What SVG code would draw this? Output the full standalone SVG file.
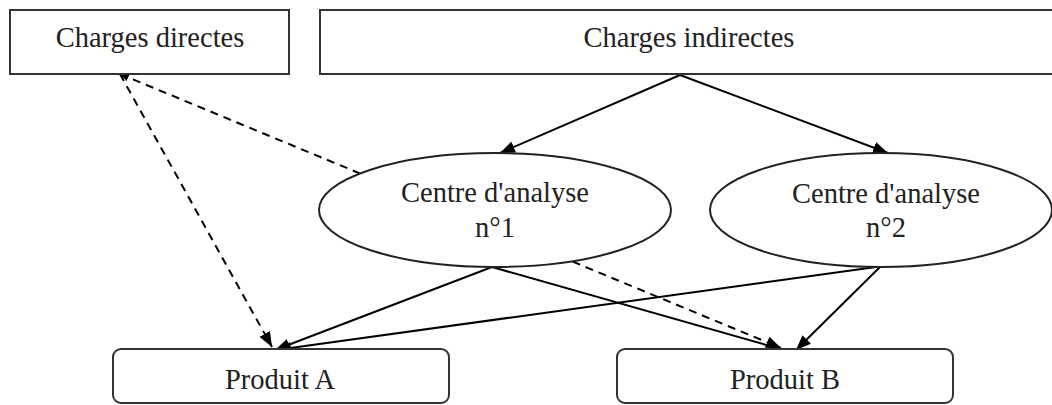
<svg xmlns="http://www.w3.org/2000/svg" width="1052" height="405" viewBox="0 0 1052 405">
<defs>
<marker id="arr" markerUnits="userSpaceOnUse" markerWidth="16" markerHeight="12" viewBox="0 0 16 12" refX="15" refY="6" orient="auto">
<path d="M0,0 L15,6 L0,12 Z" fill="#000"/>
</marker>
<marker id="arrs" markerUnits="userSpaceOnUse" markerWidth="10" markerHeight="8" viewBox="0 0 10 8" refX="9" refY="4" orient="auto-start-reverse">
<path d="M0,0 L9,4 L0,8 Z" fill="#000"/>
</marker>
<style>
.box{fill:#fff;stroke:#333;stroke-width:2}
.ell{fill:#fff;stroke:#222;stroke-width:2}
.t{font-family:"Liberation Serif","Times New Roman",serif;font-size:28.5px;fill:#222;text-anchor:middle}
.ln{fill:none;stroke:#000;stroke-width:2}
.ds{fill:none;stroke:#000;stroke-width:2;stroke-dasharray:8 6}
</style>
</defs>
<rect width="1052" height="405" fill="#fff"/>
<g id="connectors">
<line class="ln" x1="680" y1="75" x2="500" y2="153" marker-end="url(#arr)"/>
<line class="ln" x1="680" y1="75" x2="888" y2="153" marker-end="url(#arr)"/>
<line class="ds" x1="120" y1="74" x2="272" y2="347" marker-end="url(#arr)"/>
<line class="ds" x1="120" y1="74" x2="781" y2="348" marker-start="url(#arrs)" marker-end="url(#arr)"/>
<line class="ln" x1="492" y1="267" x2="275" y2="350" marker-end="url(#arr)"/>
<line class="ln" x1="876" y1="267" x2="276" y2="350" marker-end="url(#arr)"/>
<line class="ln" x1="492" y1="267" x2="784" y2="350" marker-end="url(#arr)"/>
<line class="ln" x1="880" y1="267" x2="796" y2="350" marker-end="url(#arr)"/>
</g>
<g id="charges-directes">
<rect class="box" x="10" y="10" width="279" height="64"/>
<text class="t" x="150" y="47">Charges directes</text>
</g>
<g id="charges-indirectes">
<rect class="box" x="320" y="10" width="740" height="64"/>
<text class="t" x="689" y="47">Charges indirectes</text>
</g>
<g id="centre-1">
<ellipse class="ell" cx="495" cy="210" rx="176" ry="57"/>
<text class="t" x="495" y="202">Centre d'analyse</text>
<text class="t" x="495" y="237">n°1</text>
</g>
<g id="centre-2">
<ellipse class="ell" cx="881" cy="210" rx="171" ry="57"/>
<text class="t" x="886" y="203">Centre d'analyse</text>
<text class="t" x="886" y="237">n°2</text>
</g>
<g id="produit-a">
<rect class="box" x="113" y="349" width="336" height="54" rx="8"/>
<text class="t" x="280" y="389">Produit A</text>
</g>
<g id="produit-b">
<rect class="box" x="617" y="349" width="336" height="54" rx="8"/>
<text class="t" x="785" y="389">Produit B</text>
</g>
</svg>
